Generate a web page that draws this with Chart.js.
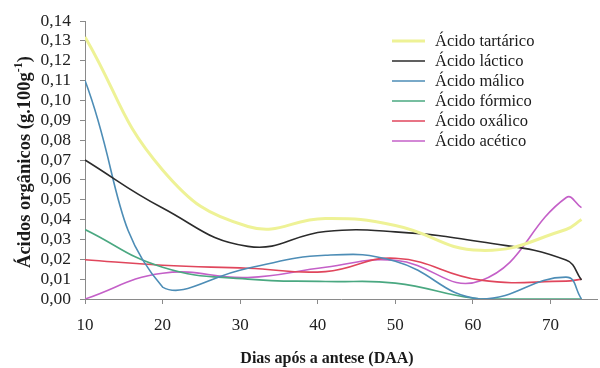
<!DOCTYPE html>
<html>
<head>
<meta charset="utf-8">
<script src="https://cdn.jsdelivr.net/npm/chart.js@4.4.1/dist/chart.umd.min.js"></script>
<style>
  html, body { margin: 0; padding: 0; background: #ffffff; }
  #wrap { width: 600px; height: 368px; }
</style>
</head>
<body>
<div id="wrap"><canvas id="chart" width="600" height="368"></canvas></div>
<script>
// Sampling days (days after anthesis)
const days = [10, 20, 31, 41, 50, 61, 72, 74];
const xTickValues = [10, 20, 30, 40, 50, 60, 70];

// Organic acid contents (g.100g-1)
const tartarico = [0.132, 0.065, 0.0365, 0.0405, 0.037, 0.0245, 0.035, 0.040];
const lactico   = [0.070, 0.0458, 0.0265, 0.034, 0.0338, 0.0288, 0.0196, 0.0096];
const malico    = [0.110, 0.006, 0.0155, 0.022, 0.019, 0.000, 0.011, 0.000];
const formico   = [0.035, 0.016, 0.010, 0.0088, 0.008, 0.000, 0.000, 0.000];
const oxalico   = [0.0198, 0.017, 0.0155, 0.0138, 0.0205, 0.0095, 0.009, 0.010];
const acetico   = [0.000, 0.013, 0.0108, 0.016, 0.0195, 0.0092, 0.051, 0.046];

const seriesNames = ['Ácido tartárico', 'Ácido láctico', 'Ácido málico',
                     'Ácido fórmico', 'Ácido oxálico', 'Ácido acético'];
const seriesValues = [tartarico, lactico, malico, formico, oxalico, acetico];
const seriesColors = ['#eef296', '#2b2b2b', '#4d8db6', '#4aa881', '#e0465c', '#c460c8'];
const seriesWidths = [3, 1.6, 1.6, 1.6, 1.6, 1.6];

const SERIF = "'Liberation Serif', 'Times New Roman', serif";

const datasets = seriesNames.map((name, i) => ({
  label: name,
  data: days.map((d, k) => ({ x: d, y: seriesValues[i][k] })),
  borderColor: seriesColors[i],
  backgroundColor: seriesColors[i],
  borderWidth: seriesWidths[i],
  pointRadius: 0,
  tension: 0.45,
  fill: false
}));

// Legend box and axis titles drawn on top of the plot
const annotations = {
  id: 'annotations',
  afterDraw(chart) {
    const ctx = chart.ctx;
    ctx.save();
    // legend
    ctx.font = '16.5px ' + SERIF;
    ctx.textBaseline = 'middle';
    ctx.textAlign = 'left';
    chart.data.datasets.forEach((ds, i) => {
      const y = 41 + i * 20;
      ctx.strokeStyle = ds.borderColor;
      ctx.lineWidth = ds.borderWidth;
      ctx.beginPath();
      ctx.moveTo(392, y);
      ctx.lineTo(425, y);
      ctx.stroke();
      ctx.fillStyle = '#1a1a1a';
      ctx.fillText(ds.label, 435, y + 1);
    });

    // x axis title
    ctx.font = 'bold 16px ' + SERIF;
    ctx.textAlign = 'center';
    ctx.fillStyle = '#1a1a1a';
    ctx.fillText('Dias após a antese (DAA)', 327, 359);

    // y axis title with superscript
    ctx.translate(25, 162);
    ctx.rotate(-Math.PI / 2);
    const main = 'Ácidos orgânicos (g.100g';
    const sup = '-1';
    const close = ')';
    const big = 'bold 18.5px ' + SERIF;
    const small = 'bold 12px ' + SERIF;
    ctx.font = big;
    const wMain = ctx.measureText(main).width;
    const wClose = ctx.measureText(close).width;
    ctx.font = small;
    const wSup = ctx.measureText(sup).width;
    const total = wMain + wSup + wClose;
    let x = -total / 2;
    ctx.textAlign = 'left';
    ctx.font = big;
    ctx.fillText(main, x, 0);
    x += wMain;
    ctx.font = small;
    ctx.fillText(sup, x, -6);
    x += wSup;
    ctx.font = big;
    ctx.fillText(close, x, 0);
    ctx.restore();
  }
};

const axisGray = '#8a8a8a';

new Chart(document.getElementById('chart'), {
  type: 'line',
  data: { datasets },
  plugins: [annotations],
  options: {
    responsive: false,
    animation: false,
    devicePixelRatio: 1,
    layout: { padding: { top: 21, right: 3, left: 0, bottom: 0 } },
    plugins: {
      legend: { display: false },
      tooltip: { enabled: false }
    },
    scales: {
      x: {
        type: 'linear',
        min: 10,
        max: 76,
        afterBuildTicks: (scale) => { scale.ticks = xTickValues.map(v => ({ value: v })); },
        afterFit: (scale) => { scale.height = 69; },
        grid: { drawOnChartArea: false, color: axisGray, tickLength: 5 },
        border: { color: axisGray, width: 1 },
        ticks: {
          autoSkip: false,
          maxRotation: 0,
          padding: 11,
          color: '#222',
          font: { family: SERIF, size: 17 },
          callback: (v) => String(v)
        }
      },
      y: {
        min: 0,
        max: 0.14,
        afterFit: (scale) => { scale.width = 85; },
        grid: { drawOnChartArea: false, color: axisGray, tickLength: 5 },
        border: { color: axisGray, width: 1 },
        ticks: {
          stepSize: 0.01,
          autoSkip: false,
          padding: 9,
          color: '#222',
          font: { family: SERIF, size: 17.5 },
          callback: (v) => Number(v).toFixed(2).replace('.', ',')
        }
      }
    }
  }
});
</script>
</body>
</html>
